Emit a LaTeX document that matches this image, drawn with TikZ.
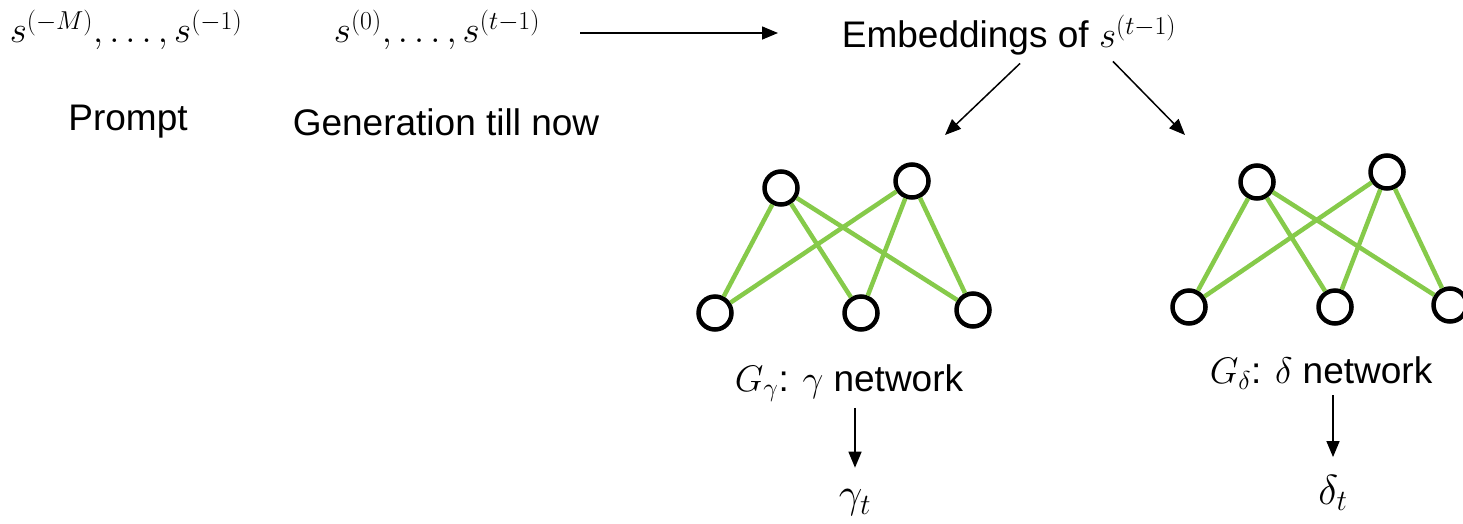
\RequirePackage{fix-cm}
\documentclass[tikz,border=0pt]{standalone}
\usepackage{fontspec}
\setmainfont{Liberation Sans}
\usetikzlibrary{arrows.meta}
\definecolor{linkgreen}{RGB}{134,202,74}
\tikzset{
  lbl/.style={font=\fontsize{37}{44}\selectfont, inner sep=0pt},
  outlbl/.style={font=\fontsize{42}{48}\selectfont, inner sep=0pt},
  arr/.style={line width=1.5pt, -{Triangle[length=16pt,width=13pt]}},
  neuron/.style={circle, draw=black, fill=white, line width=4.5pt, minimum size=33pt, inner sep=0pt},
  link/.style={draw=linkgreen, line width=4.5pt},
}
\begin{document}
\begin{tikzpicture}[x=1pt,y=-1pt]
\useasboundingbox (0,0) rectangle (1463,523);
\clip (0,0) rectangle (1463,523);

% input sequences
\node[lbl] (f1) at (126,30) {$s^{(-M)},\ldots,s^{(-1)}$};
\node[lbl] (f2) at (437,30) {$s^{(0)},\ldots,s^{(t-1)}$};
\node[lbl] (prompt) at (128,122) {Prompt};
\node[lbl] (gen) at (446,122) {Generation till now};
\node[lbl] (emb) at (1009,35) {Embeddings of $s^{(t-1)}$};

\coordinate (a1s) at (580,33);
\coordinate (a1e) at (778,33);
\draw[arr] (a1s) -- (a1e);

\coordinate (gIn) at (945,135);
\coordinate (dIn) at (1185,135);
\draw[arr] (emb.south -| 1020,0) ++(0,8) -- (gIn);
\draw[arr] (emb.south -| 1113,0) ++(0,6) -- (dIn);

% gamma network
\node[neuron] (g1) at (781,188) {};
\node[neuron] (g2) at (912,181) {};
\node[neuron] (g3) at (715,313) {};
\node[neuron] (g4) at (861,313) {};
\node[neuron] (g5) at (973,310) {};
\foreach \a in {g1,g2}
  \foreach \b in {g3,g4,g5}
    \draw[link] (\a) -- (\b);

% delta network
\node[neuron] (d1) at (1257,182) {};
\node[neuron] (d2) at (1387,172) {};
\node[neuron] (d3) at (1189,307) {};
\node[neuron] (d4) at (1335,307) {};
\node[neuron] (d5) at (1450,305) {};
\foreach \a in {d1,d2}
  \foreach \b in {d3,d4,d5}
    \draw[link] (\a) -- (\b);

% network outputs
\node[lbl] (gnet) at (849,383) {$G_\gamma$: $\gamma$ network};
\node[lbl] (dnet) at (1321,373) {$G_\delta$: $\delta$ network};
\node[outlbl] (gt) at (855,503) {$\gamma_t$};
\node[outlbl] (dt) at (1333,493) {$\delta_t$};
\draw[arr, shorten <=6pt, shorten >=22pt] (gnet.south -| gt) -- (gt.north);
\draw[arr, shorten <=6pt, shorten >=18pt] (dnet.south -| dt) -- (dt.north);
\end{tikzpicture}
\end{document}
